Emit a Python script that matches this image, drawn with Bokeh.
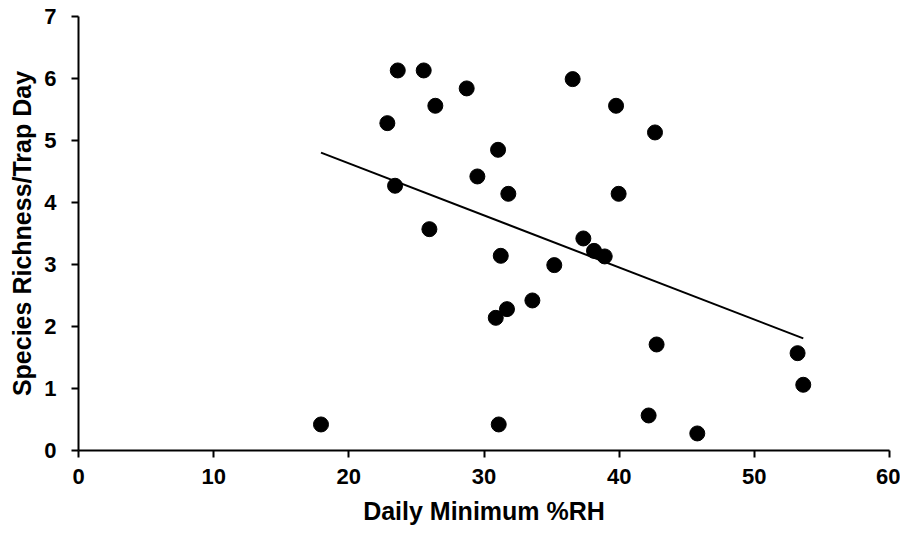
import numpy as np
from bokeh.plotting import figure
from bokeh.models import Range1d, FixedTicker
from bokeh.embed import file_html
from bokeh.resources import INLINE

# Data
rh_min = [17.94, 23.62, 25.54, 28.72, 26.40, 22.85, 36.56, 31.04, 29.51, 23.42,
          31.80, 25.96, 37.35, 38.14, 31.24, 35.20, 33.58, 31.70, 30.87, 31.09,
          39.77, 42.65, 39.96, 38.93, 42.77, 53.20, 53.62, 42.18, 45.78]
richness = [0.42, 6.13, 6.13, 5.84, 5.56, 5.28, 5.99, 4.85, 4.42, 4.27,
            4.14, 3.57, 3.42, 3.22, 3.14, 2.99, 2.42, 2.28, 2.14, 0.42,
            5.56, 5.13, 4.14, 3.13, 1.71, 1.57, 1.06, 0.565, 0.275]
x_ticks = [0, 10, 20, 30, 40, 50, 60]
y_ticks = [0, 1, 2, 3, 4, 5, 6, 7]

# Linear trend line (least squares) over the data range
slope, intercept = np.polyfit(rh_min, richness, 1)
trend_x = [min(rh_min), max(rh_min)]
trend_y = [slope * v + intercept for v in trend_x]

FONT = "Liberation Sans"

p = figure(width=900, height=529, output_backend="svg", toolbar_location=None,
           x_range=Range1d(0, 60), y_range=Range1d(0, 7),
           min_border_left=78, min_border_right=11, min_border_top=16, min_border_bottom=79)
p.outline_line_color = None
p.grid.visible = False
p.background_fill_color = "white"
p.border_fill_color = "white"

p.line(trend_x, trend_y, line_color="black", line_width=2)
p.scatter(rh_min, richness, size=15, fill_color="black", line_color="black")

for ax, ticks in ((p.xaxis, x_ticks), (p.yaxis, y_ticks)):
    ax.ticker = FixedTicker(ticks=ticks)
    ax.minor_tick_line_color = None
    ax.major_tick_in = 0
    ax.major_tick_out = 7
    ax.axis_line_color = "black"
    ax.axis_line_width = 2
    ax.major_tick_line_color = "black"
    ax.major_tick_line_width = 2
    ax.major_label_text_font = FONT
    ax.major_label_text_font_style = "bold"
    ax.major_label_text_font_size = "22px"
    ax.major_label_text_color = "black"
    ax.axis_label_text_font = FONT
    ax.axis_label_text_font_style = "bold"
    ax.axis_label_text_font_size = "25px"
    ax.axis_label_text_color = "black"

p.xaxis.axis_label = "Daily Minimum %RH"
p.yaxis.axis_label = "Species Richness/Trap Day"
p.xaxis.major_label_standoff = 11
p.yaxis.major_label_standoff = 15
p.xaxis.axis_label_standoff = 10
p.yaxis.axis_label_standoff = 5

open("out.html", "w").write(file_html(p, INLINE))
